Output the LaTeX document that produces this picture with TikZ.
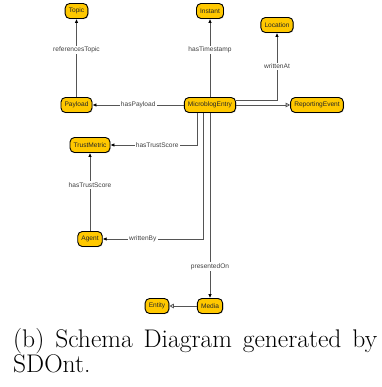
\documentclass[tikz,border=0pt]{standalone}
\usepackage{fontspec}
\newfontfamily\labelfont{Liberation Sans}
\usetikzlibrary{arrows.meta,shadows}
\definecolor{boxgold}{RGB}{255,200,0}
\definecolor{linegray}{RGB}{85,85,85}
\begin{document}
\begin{tikzpicture}[x=1pt,y=-1pt,
  cls/.style={draw=black, line width=0.9pt, fill=boxgold, rounded corners=4.5pt,
    minimum height=15pt, inner xsep=3.6pt, inner ysep=0pt,
    drop shadow={shadow xshift=0.7pt, shadow yshift=-0.7pt, fill=black!45},
    font=\labelfont\fontsize{6.6}{7}\selectfont, text=black!85},
  rel/.style={draw=linegray, line width=0.8pt, -{Latex[length=4pt,width=3.6pt,black]}},
  sub/.style={draw=linegray, line width=0.8pt, -{Triangle[open,length=4.5pt,width=4.5pt,fill=white]}},
  lbl/.style={fill=white, inner sep=1.2pt, font=\labelfont\fontsize{6.6}{7}\selectfont, text=black!75}
]
\useasboundingbox (0,0) rectangle (381,387);

% classes
\node[cls] (topic)     at (76.5,11)  {Topic};
\node[cls] (instant)   at (210,11)   {Instant};
\node[cls] (location)  at (277,25)   {Location};
\node[cls] (payload)   at (76.5,105) {Payload};
\node[cls] (mbe)       at (210,105)  {MicroblogEntry};
\node[cls] (reporting) at (317,105)  {ReportingEvent};
\node[cls] (trust)     at (90,145)   {TrustMetric};
\node[cls] (agent)     at (90,239)   {Agent};
\node[cls] (media)     at (210,306)  {Media};
\node[cls] (entity)    at (157,306)  {Entity};

% properties
\draw[rel] (payload) -- node[lbl,pos=0.6]{referencesTopic} (topic);
\draw[rel] (mbe) -- node[lbl,pos=0.6]{hasTimestamp} (instant);
\draw[rel] (mbe) -- node[lbl]{hasPayload} (payload);
\draw[rel] ([yshift=5pt]mbe.east) -| node[lbl,pos=0.75]{writtenAt} (location.south);
\draw[sub] (mbe) -- (reporting);
\draw[rel] ([xshift=-13pt]mbe.south) |- node[lbl,pos=0.73]{hasTrustScore} (trust.east);
\draw[rel] ([xshift=-7pt]mbe.south) |- node[lbl,pos=0.8]{writtenBy} (agent.east);
\draw[rel] (mbe) -- node[lbl,pos=0.83]{presentedOn} (media);
\draw[rel] (agent) -- node[lbl,pos=0.59]{hasTrustScore} (trust);
\draw[sub] (media) -- (entity);

% caption, justified over the width of the figure
\node[anchor=base west, inner sep=0pt, text width=364pt, align=justify,
      font=\fontsize{25.5}{25}\selectfont] (caption) at (13,347)
  {(b) Schema Diagram generated by SDOnt.};
\end{tikzpicture}
\end{document}
